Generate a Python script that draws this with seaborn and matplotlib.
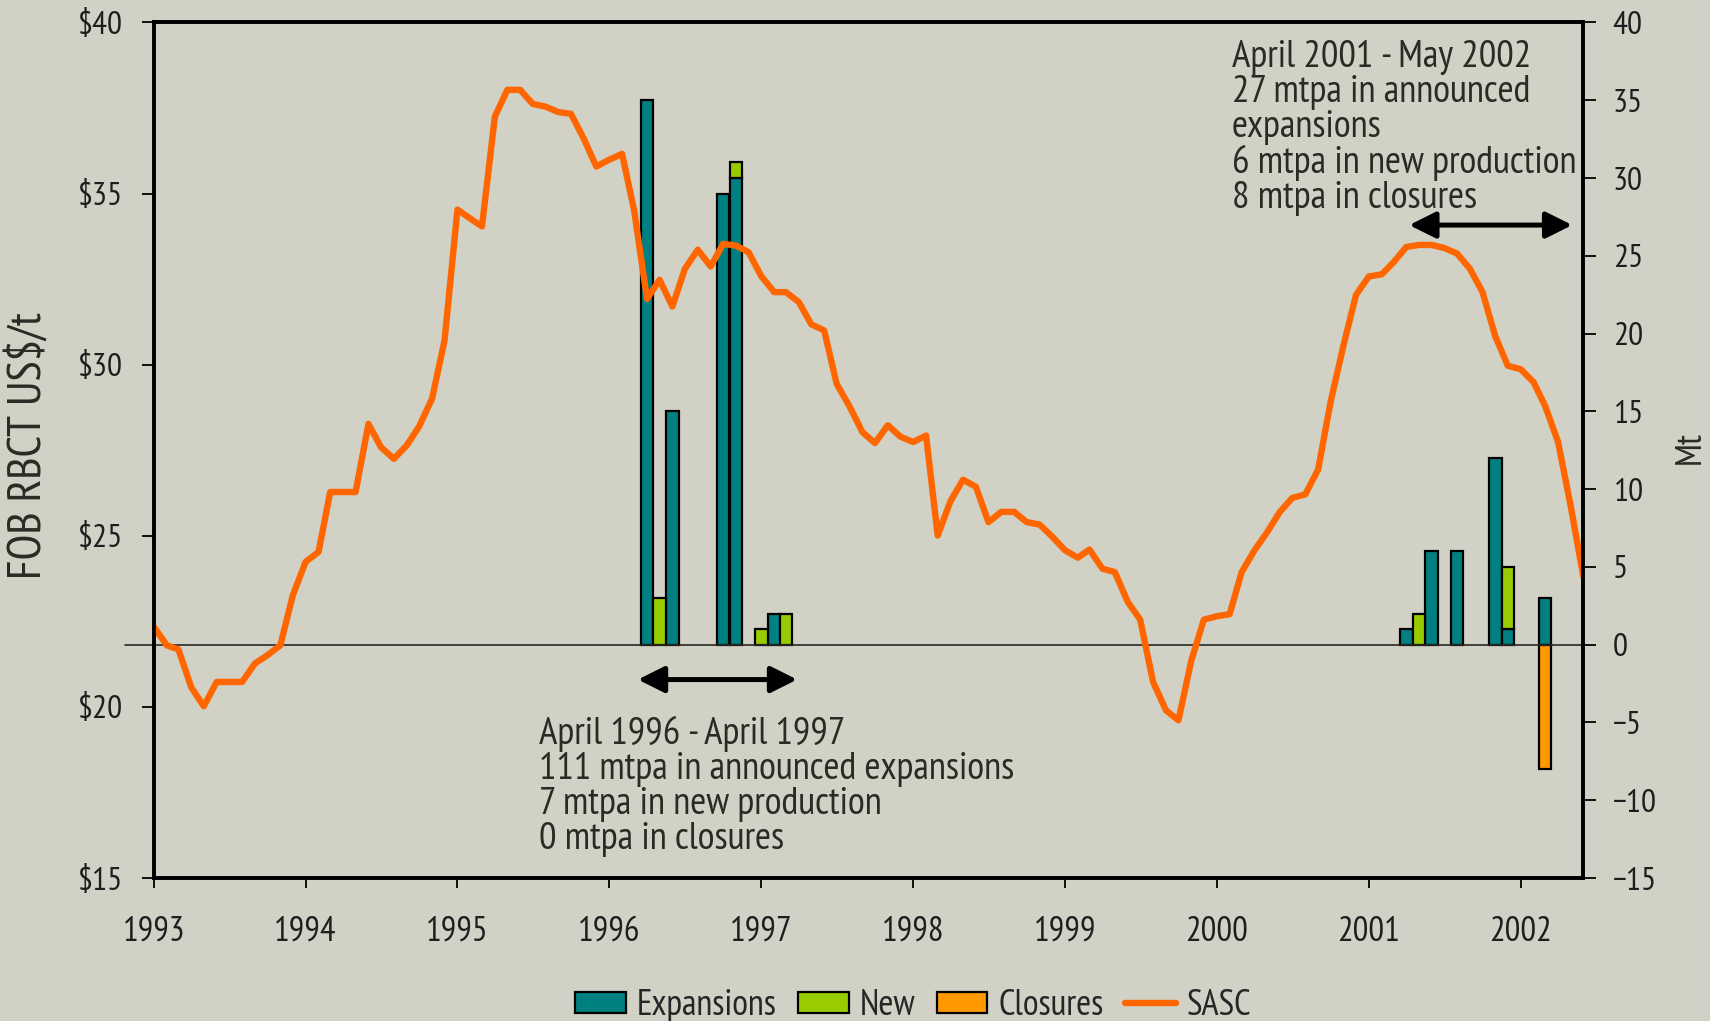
import numpy as np
import pandas as pd
import matplotlib
matplotlib.use("Agg")
import matplotlib.pyplot as plt
import matplotlib.dates as mdates
import matplotlib.transforms as mtransforms
from matplotlib.patches import Patch
from matplotlib.lines import Line2D
import seaborn as sns

# SASC price (FOB RBCT US$/t), monthly from Jan 1993 to Jun 2002
start_month = "1993-01"
sasc_price = [
    22.34, 21.80, 21.68, 20.57, 20.02, 20.73, 20.73, 20.73, 21.27, 21.51, 21.80, 23.26,
    24.24, 24.53, 26.28, 26.28, 26.28, 28.27, 27.59, 27.25, 27.64, 28.20, 29.01, 30.71,
    34.53, 34.27, 34.04, 37.25, 38.03, 38.03, 37.62, 37.54, 37.38, 37.33, 36.60, 35.79,
    35.99, 36.16, 34.50, 31.92, 32.48, 31.70, 32.80, 33.36, 32.87, 33.53, 33.48, 33.29,
    32.58, 32.12, 32.12, 31.83, 31.18, 31.00, 29.44, 28.78, 28.03, 27.71, 28.23, 27.90,
    27.74, 27.93, 25.01, 26.02, 26.64, 26.43, 25.40, 25.70, 25.70, 25.40, 25.33, 24.98,
    24.58, 24.36, 24.60, 24.04, 23.94, 23.07, 22.55, 20.73, 19.90, 19.61, 21.36, 22.55,
    22.65, 22.71, 23.94, 24.58, 25.10, 25.70, 26.11, 26.21, 26.94, 28.92, 30.57, 32.04,
    32.58, 32.64, 32.99, 33.44, 33.50, 33.50, 33.41, 33.25, 32.80, 32.13, 30.83, 29.97,
    29.87, 29.49, 28.79, 27.74, 25.89, 23.79,
]

# capacity changes (Mt)
exp_months = ["1996-04", "1996-06", "1996-10", "1996-11", "1997-02",
              "2001-04", "2001-06", "2001-08", "2001-11", "2001-12", "2002-03"]
exp_mt = [35, 15, 29, 30, 2, 1, 6, 6, 12, 1, 3]
new_months = ["1996-05", "1996-11", "1997-01", "1997-03", "2001-05", "2001-12"]
new_mt = [3, 1, 1, 2, 2, 4]
closure_months = ["2002-03"]
closure_mt = [-8]

price_ticks = [15, 20, 25, 30, 35, 40]
price_labels = ["$15", "$20", "$25", "$30", "$35", "$40"]
mt_ticks = list(range(-15, 45, 5))

note_1996 = ("April 1996 - April 1997\n111 mtpa in announced expansions\n"
             "7 mtpa in new production\n0 mtpa in closures")
note_2001 = ("April 2001 - May 2002\n27 mtpa in announced\nexpansions\n"
             "6 mtpa in new production\n8 mtpa in closures")

bg = "#D1D1C6"
teal = "#008080"
green = "#99CC00"
orange = "#FF9900"
line_col = "#FF6600"
text_col = "#2B2B25"

sns.set_style("ticks")
# condensed face like the original slide
plt.rcParams["font.family"] = ["PT Sans Narrow", "Roboto Condensed", "DejaVu Sans"]

dates = pd.date_range(start_month, periods=len(sasc_price), freq="MS")
df = pd.DataFrame({"date": dates, "SASC": sasc_price})

bars = pd.DataFrame(0.0, index=dates, columns=["Expansions", "New", "Closures"])
bars.loc[pd.to_datetime(exp_months), "Expansions"] = exp_mt
bars.loc[pd.to_datetime(new_months), "New"] = new_mt
bars.loc[pd.to_datetime(closure_months), "Closures"] = closure_mt

fig, ax = plt.subplots(figsize=(17.1, 10.21), dpi=100)
fig.patch.set_facecolor(bg)
fig.subplots_adjust(left=0.090, right=0.926, top=0.978, bottom=0.140)
ax2 = ax.twinx()
ax.set_zorder(ax2.get_zorder() + 1)
ax.patch.set_visible(False)
ax2.patch.set_visible(False)

# bars on the Mt axis
e = bars[bars["Expansions"] != 0]
ax2.bar(e.index, e["Expansions"], width=30, color=teal, edgecolor="black", linewidth=1.6)
n = bars[bars["New"] != 0]
ax2.bar(n.index, n["New"], bottom=n["Expansions"], width=30, color=green,
        edgecolor="black", linewidth=1.6)
c = bars[bars["Closures"] != 0]
ax2.bar(c.index, c["Closures"], width=30, color=orange, edgecolor="black", linewidth=1.6)

trans = mtransforms.blended_transform_factory(ax2.transAxes, ax2.transData)
ax2.plot([-0.02, 1.0], [0, 0], transform=trans, color="#2A2A25", lw=1.2,
         clip_on=False, zorder=1)

# price line
sns.lineplot(data=df, x="date", y="SASC", ax=ax, color=line_col, lw=4.6, legend=False)

ax.set_xlim(dates[0], dates[-1])
ax.set_ylim(15, 40)
ax2.set_ylim(-15, 40)
ax.set_yticks(price_ticks)
ax.set_yticklabels(price_labels)
ax2.set_yticks(mt_ticks)
ax.xaxis.set_major_locator(mdates.YearLocator())
ax.xaxis.set_major_formatter(mdates.DateFormatter("%Y"))

for a in (ax, ax2):
    for s in a.spines.values():
        s.set_visible(True)
        s.set_linewidth(2.6)
        s.set_color("black")
ax.tick_params(axis="y", direction="out", length=9, width=1.3, pad=13,
               labelsize=24, labelcolor="#1E1E1E", color="black")
ax2.tick_params(axis="y", direction="out", length=9, width=1.3, pad=12,
                labelsize=24, labelcolor="#1E1E1E", color="black")
ax.tick_params(axis="x", direction="out", length=7, width=1.3, pad=20,
               labelsize=25, labelcolor="#1E1E1E", color="black")

ax.set_xlabel("")
ax.set_ylabel("FOB RBCT US$/t", fontsize=34, color=text_col)
ax.yaxis.set_label_coords(-0.0725, 0.506)
ax2.set_ylabel("Mt", fontsize=26, color=text_col)
ax2.yaxis.set_label_coords(1.063, 0.503)

# annotations
ax.text(pd.Timestamp("1995-07-16"), 19.75, note_1996, fontsize=28,
        color=text_col, va="top", ha="left", linespacing=1.0)
ax.text(pd.Timestamp("2000-02-06"), 39.50, note_2001, fontsize=28,
        color=text_col, va="top", ha="left", linespacing=1.0)
arrow = dict(arrowstyle="<|-|>", color="black", lw=3.6, mutation_scale=40,
             shrinkA=0, shrinkB=0)
ax.annotate("", xy=(pd.Timestamp("1997-03-28"), 20.80),
            xytext=(pd.Timestamp("1996-03-10"), 20.80), arrowprops=arrow)
ax.annotate("", xy=(pd.Timestamp("2002-05-05"), 34.08),
            xytext=(pd.Timestamp("2001-04-08"), 34.08), arrowprops=arrow)

handles = [
    Patch(facecolor=teal, edgecolor="black", linewidth=1.6, label="Expansions"),
    Patch(facecolor=green, edgecolor="black", linewidth=1.6, label="New"),
    Patch(facecolor=orange, edgecolor="black", linewidth=1.6, label="Closures"),
    Line2D([], [], color=line_col, lw=4.6, label="SASC"),
]
fig.legend(handles=handles, loc="center", bbox_to_anchor=(0.534, 0.015), ncol=4,
           frameon=False, prop={"size": 26},
           handlelength=1.4, handleheight=0.55, handletextpad=0.3, columnspacing=0.6)

fig.savefig("out.png", dpi=100, facecolor=bg)
